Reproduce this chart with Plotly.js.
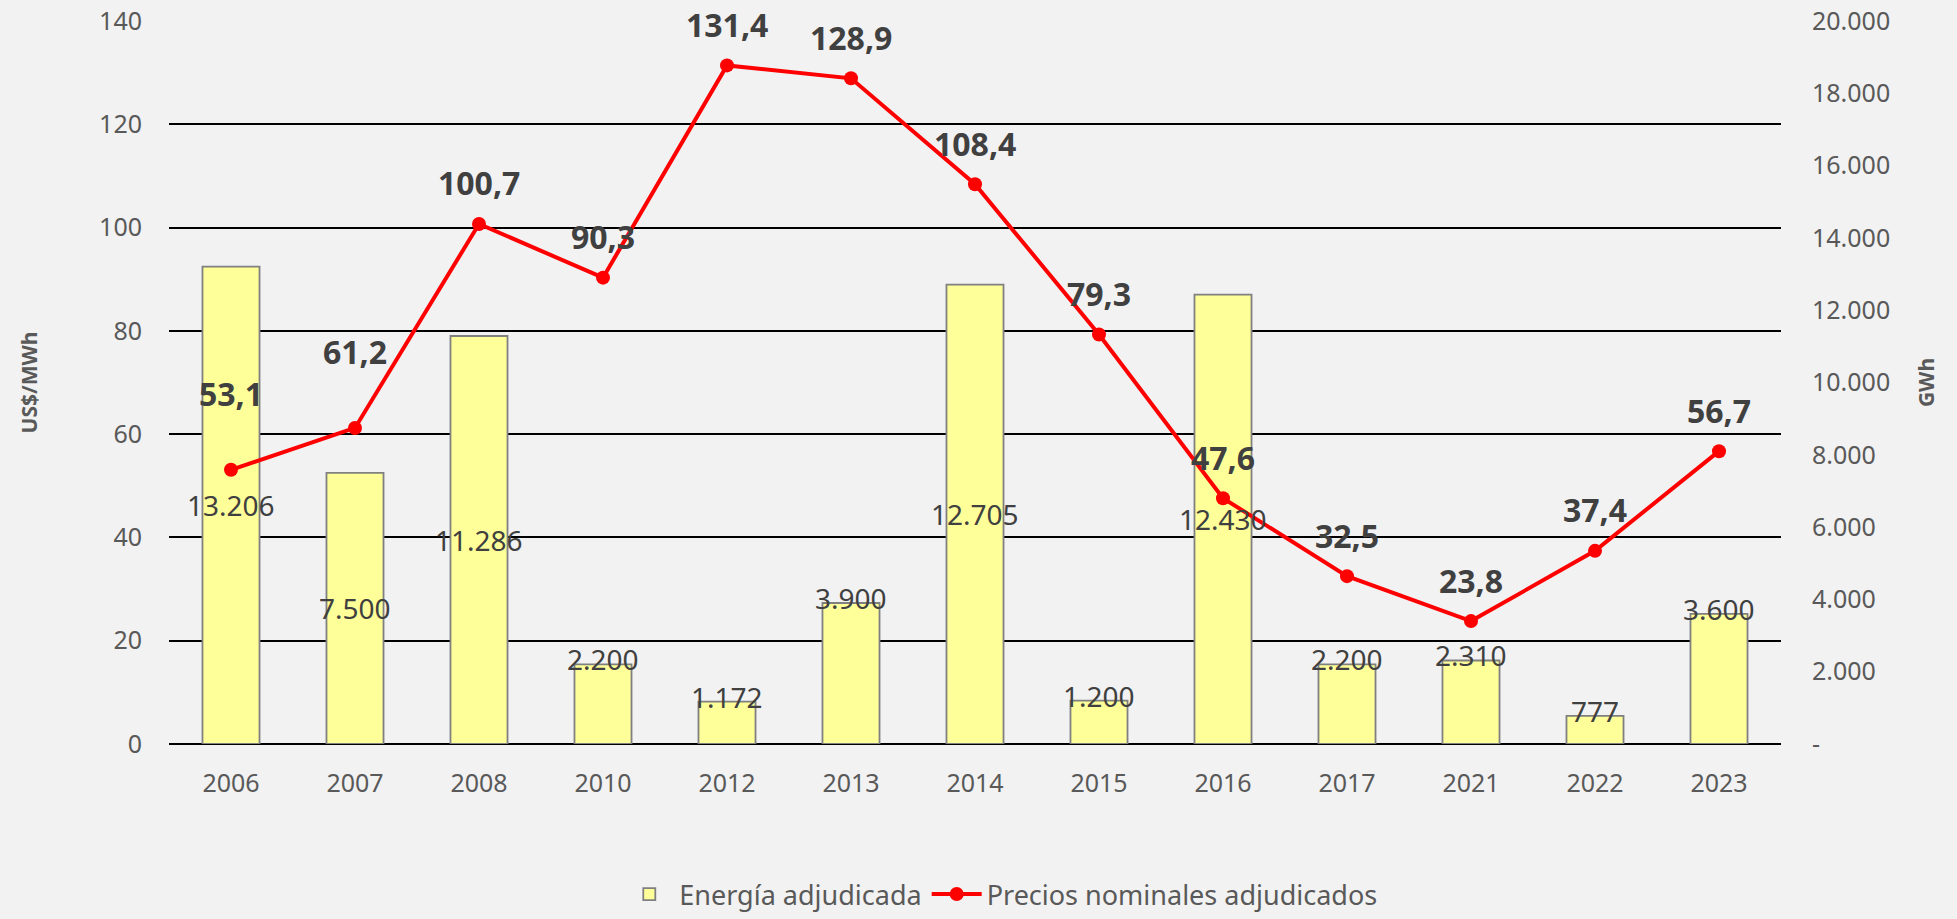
<!DOCTYPE html>
<html>
<head>
<meta charset="utf-8">
<script src="https://cdn.plot.ly/plotly-3.0.1.min.js"></script>
<style>
  html, body { margin: 0; padding: 0; background: #f2f2f2; }
  #grafico { width: 1957px; height: 919px; }
</style>
</head>
<body>
<div id="grafico"></div>
<script>
// Datos de las licitaciones
const anios = ['2006', '2007', '2008', '2010', '2012', '2013', '2014', '2015', '2016', '2017', '2021', '2022', '2023'];
const energiaGWh = [13206, 7500, 11286, 2200, 1172, 3900, 12705, 1200, 12430, 2200, 2310, 777, 3600];
const preciosUSD = [53.1, 61.2, 100.7, 90.3, 131.4, 128.9, 108.4, 79.3, 47.6, 32.5, 23.8, 37.4, 56.7];

// Eje derecho (GWh)
const ticksGWh = [0, 2000, 4000, 6000, 8000, 10000, 12000, 14000, 16000, 18000, 20000];
const etiquetasGWh = ['-', '2.000', '4.000', '6.000', '8.000', '10.000', '12.000', '14.000', '16.000', '18.000', '20.000'];

const fuente = '"Noto Sans", "Open Sans", sans-serif';
const grisTexto = '#595959';
const grisEtiqueta = '#404040';

// formato 12.345 y 12,3
const fmtMiles = v => v.toString().replace(/\B(?=(\d{3})+(?!\d))/g, '.');
const fmtDecimal = v => v.toFixed(1).replace('.', ',');

// Barras: energía (eje y, a la derecha, debajo)
const trazaBarras = {
    type: 'bar',
    name: 'Energía adjudicada',
    x: anios,
    y: energiaGWh,
    yaxis: 'y',
    width: 0.46,
    marker: {
        color: '#ffff99',
        line: { color: '#808080', width: 1.8 }
    },
    hoverinfo: 'x+y'
};

// Línea: precios (eje y2, a la izquierda, encima de las barras)
const trazaPrecios = {
    type: 'scatter',
    mode: 'lines+markers',
    name: 'Precios nominales adjudicados',
    x: anios,
    y: preciosUSD,
    yaxis: 'y2',
    line: { color: '#ff0000', width: 4 },
    marker: { color: '#ff0000', size: 14 },
    cliponaxis: false
};

// Etiquetas de datos (x = índice de la categoría)
const anotaciones = [];
energiaGWh.forEach((v, i) => {
    const grande = v > 5000;
    anotaciones.push({
        x: i,
        y: grande ? v / 2 : v,
        xref: 'x',
        yref: 'y',
        yshift: grande ? 0 : 5,
        text: fmtMiles(v),
        showarrow: false,
        font: { family: fuente, size: 28, color: grisEtiqueta }
    });
});
preciosUSD.forEach((v, i) => {
    anotaciones.push({
        x: i,
        y: v,
        xref: 'x',
        yref: 'y2',
        yshift: i < 2 ? 76 : 41,
        text: '<b>' + fmtDecimal(v) + '</b>',
        showarrow: false,
        font: { family: fuente, size: 32, color: grisEtiqueta }
    });
});

const layout = {
    width: 1957,
    height: 919,
    paper_bgcolor: '#f2f2f2',
    plot_bgcolor: '#f2f2f2',
    separators: ',.',
    font: { family: fuente, color: grisTexto, size: 25 },
    margin: { l: 169, r: 176, t: 21, b: 175 },
    xaxis: {
        type: 'category',
        range: [-0.5, anios.length - 0.5],
        showgrid: false,
        zeroline: false,
        showline: false,
        ticks: '',
        ticklabelstandoff: 22,
        tickfont: { family: fuente, size: 25, color: grisTexto }
    },
    yaxis: {
        side: 'right',
        range: [0, 20000],
        tickvals: ticksGWh,
        ticktext: etiquetasGWh,
        showgrid: false,
        zeroline: false,
        showline: false,
        ticks: '',
        ticklabelstandoff: 30,
        tickfont: { family: fuente, size: 25, color: grisTexto },
        title: {
            text: '<b>GWh</b>',
            font: { family: fuente, size: 21, color: grisTexto },
            standoff: 30
        }
    },
    yaxis2: {
        side: 'left',
        overlaying: 'y',
        range: [0, 140],
        dtick: 20,
        showgrid: true,
        gridcolor: '#000000',
        gridwidth: 1.5,
        zeroline: true,
        zerolinecolor: '#000000',
        zerolinewidth: 2,
        showline: false,
        ticks: '',
        ticklabelstandoff: 26,
        tickfont: { family: fuente, size: 25, color: grisTexto },
        title: {
            text: '<b>US$/MWh</b>',
            font: { family: fuente, size: 21, color: grisTexto },
            standoff: 55
        }
    },
    showlegend: true,
    legend: {
        orientation: 'h',
        x: 0.516,
        xanchor: 'center',
        xref: 'paper',
        y: 0,
        yanchor: 'bottom',
        yref: 'container',
        itemwidth: 50,
        font: { family: fuente, size: 27, color: grisTexto },
        bgcolor: 'rgba(0,0,0,0)'
    },
    annotations: anotaciones
};

Plotly.newPlot('grafico', [trazaBarras, trazaPrecios], layout, { displayModeBar: false, responsive: false });
</script>
</body>
</html>
